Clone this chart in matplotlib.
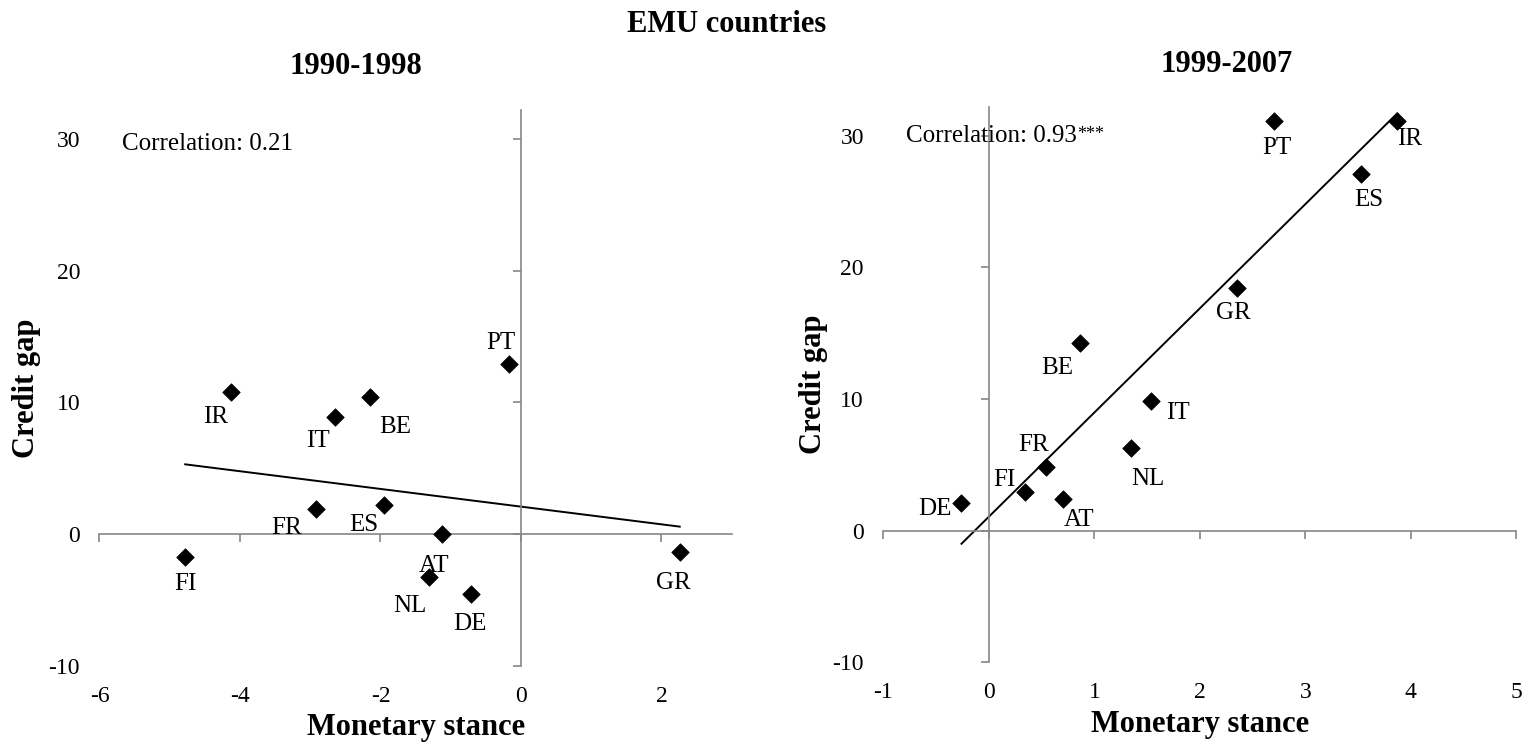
import numpy as np
import matplotlib
matplotlib.use("Agg")
import matplotlib as mpl
from matplotlib import pyplot as plt

# data
countries_a = ["FI", "IR", "IT", "BE", "PT", "FR", "ES", "AT", "NL", "DE", "GR"]
stance_a = [-4.78, -4.13, -2.65, -2.15, -0.17, -2.92, -1.95, -1.12, -1.31, -0.71, 2.26]
gap_a = [-1.73, 10.75, 8.87, 10.38, 12.92, 1.88, 2.17, 0.0, -3.24, -4.54, -1.39]

countries_b = ["PT", "IR", "ES", "GR", "BE", "IT", "NL", "FR", "FI", "AT", "DE"]
stance_b = [2.70, 3.87, 3.53, 2.35, 0.86, 1.54, 1.35, 0.54, 0.34, 0.70, -0.26]
gap_b = [31.1, 31.1, 27.05, 18.4, 14.28, 9.83, 6.30, 4.86, 2.92, 2.37, 2.08]

xticks_a = [-6, -4, -2, 0, 2]
xticks_b = [-1, 0, 1, 2, 3, 4, 5]
yticks = [-10, 0, 10, 20, 30]

# label offsets in pixels (dx, dy)
offsets_a = [(0, -27), (-15, -25), (-17, -24), (25, -30), (-8, 21), (-29, -19),
             (-20, -20), (-8, -32), (-19, -29), (-1, -30), (-6, -31)]
offsets_b = [(3, -27), (12, -18), (7, -26), (-3, -25), (-22, -25), (27, -12),
             (17, -31), (-12, 22), (-20, 12), (16, -21), (-27, -6)]

GREY = "#868686"


def panel(ax, x, y, names, offs, xlim, xticks, corr, corr_y, stars, ylab_x):
    ax.set_xlim(*xlim)
    ax.set_ylim(-10, 32.2)
    for s in ["top", "right"]:
        ax.spines[s].set_visible(False)
    ax.spines["left"].set_position(("data", 0))
    ax.spines["bottom"].set_position(("data", 0))
    for s in ["left", "bottom"]:
        ax.spines[s].set_color(GREY)
        ax.spines[s].set_linewidth(1.2)
    ax.set_xticks(xticks)
    ax.set_yticks(yticks)
    ax.tick_params(axis="both", direction="out", length=6, width=1.2, color=GREY,
                   labelleft=False, labelbottom=False)

    # tick labels sit at the outer edges, like the Excel "low" position
    sy = ax.secondary_yaxis(0)
    sy.set_yticks(yticks)
    sy.tick_params(length=0, pad=14, labelsize=17)
    sy.spines["left"].set_visible(False)
    sx = ax.secondary_xaxis(0)
    sx.set_xticks(xticks)
    sx.tick_params(length=0, pad=14.5, labelsize=17)
    sx.spines["bottom"].set_visible(False)

    ax.scatter(x, y, marker="D", s=80, c="black", linewidths=0.5, zorder=3)
    b, a = np.polyfit(x, y, 1)
    xs = np.array([min(x), max(x)])
    ax.plot(xs, a + b * xs, color="black", lw=1.4, zorder=2)

    for n, xi, yi, (dx, dy) in zip(names, x, y, offs):
        ax.annotate(n, (xi, yi), xytext=(dx, dy), textcoords="offset pixels",
                    ha="center", va="center", fontsize=18)

    t = ax.text(0.035, corr_y, corr, transform=ax.get_yaxis_transform(), ha="left",
                va="center", fontsize=18)
    if stars:
        ax.annotate(stars, xy=(1, 1), xycoords=t, xytext=(1, -1),
                    textcoords="offset pixels", ha="left", va="top", fontsize=13)

    ax.set_xlabel("Monetary stance", fontsize=22, fontweight="bold")
    ax.xaxis.set_label_coords(0.5, -0.085)
    ax.set_ylabel("Credit gap", fontsize=22, fontweight="bold")
    ax.yaxis.set_label_coords(ylab_x, 0.5)


def main():
    params = {"font.family": ["Liberation Serif", "DejaVu Serif"],
              "axes.unicode_minus": False}
    mpl.rcParams.update(params)

    fig = plt.figure(figsize=(15.26, 7.48), dpi=100)
    ax1 = fig.add_axes([0.0652, 0.110, 0.4143, 0.743])
    ax2 = fig.add_axes([0.5789, 0.1145, 0.4148, 0.743])

    panel(ax1, stance_a, gap_a, countries_a, offsets_a, (-6, 3), xticks_a,
          "Correlation: 0.21", 29.6, None, -0.092)
    panel(ax2, stance_b, gap_b, countries_b, offsets_b, (-1, 5), xticks_b,
          "Correlation: 0.93", 30.0, "***", -0.088)

    fig.text(727 / 1526, 1 - 24 / 748, "EMU countries", ha="center", va="center",
             fontsize=22, fontweight="bold")
    fig.text(356 / 1526, 1 - 66 / 748, "1990-1998", ha="center", va="center",
             fontsize=22, fontweight="bold")
    fig.text(1227 / 1526, 1 - 64 / 748, "1999-2007", ha="center", va="center",
             fontsize=22, fontweight="bold")
    fig.savefig("out.png", dpi=100)


if __name__ == "__main__":
    main()
